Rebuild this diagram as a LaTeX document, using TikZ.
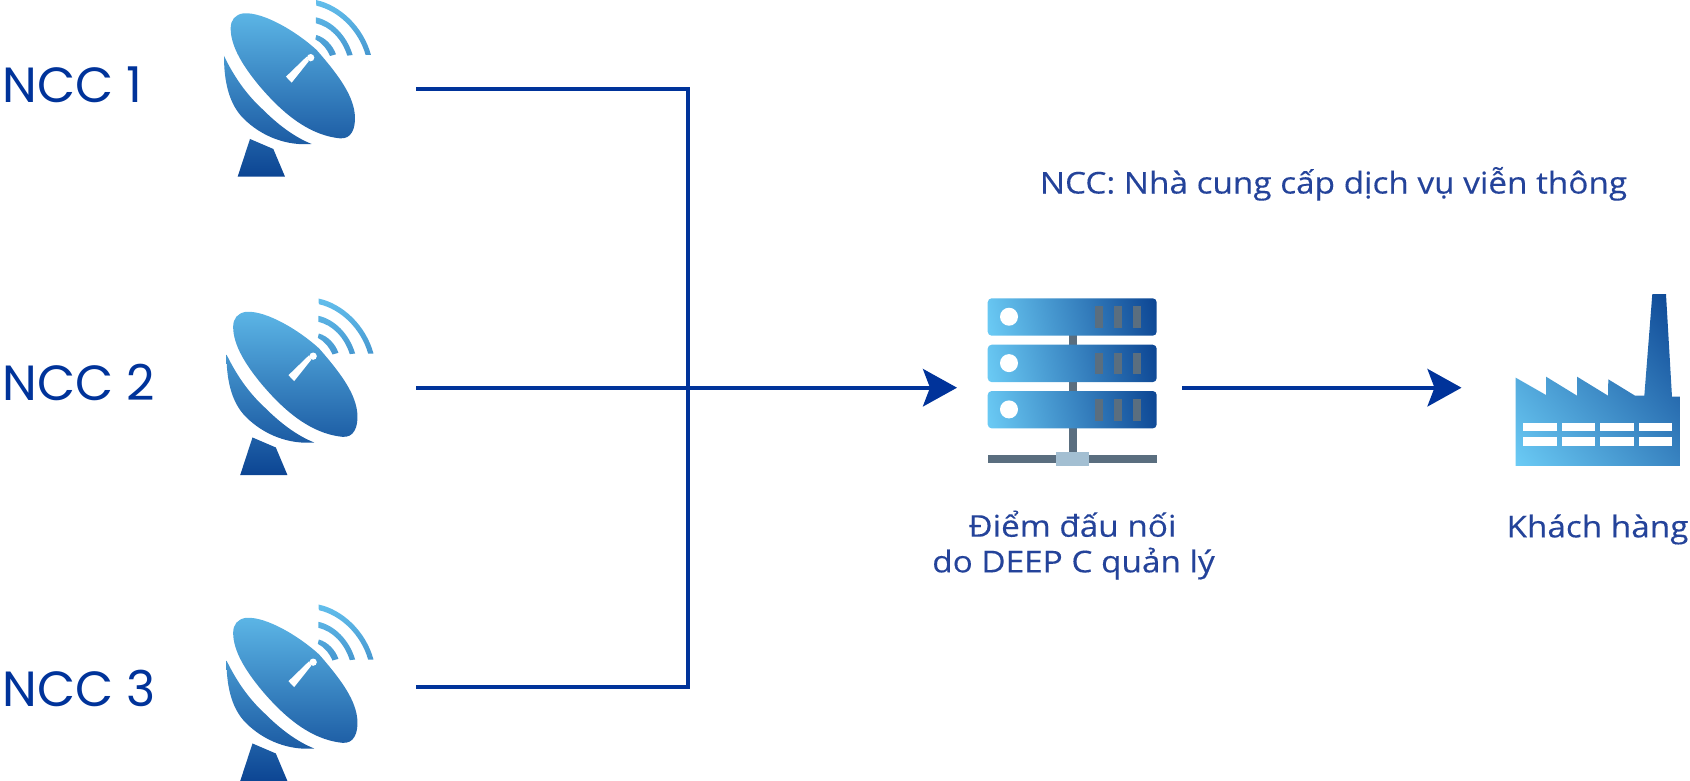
\documentclass[tikz,border=0pt]{standalone}
\usepackage{fontspec}
\usetikzlibrary{arrows.meta}
\setmainfont{Open Sans}
\newfontfamily\labelfont{Poppins}
\newfontfamily\notefont[FakeStretch=1.11,FakeBold=0.25]{Open Sans}
\definecolor{wire}{HTML}{00339A}
\definecolor{txt}{HTML}{24439A}
\definecolor{lightb}{HTML}{6BCBF5}
\definecolor{darkb}{HTML}{0C4593}
\definecolor{dishtop}{HTML}{62BEEC}
\definecolor{slate}{HTML}{5A6E7F}
\definecolor{hub}{HTML}{A3BFD2}
\pgfdeclareverticalshading{rackshade}{100bp}{color(0bp)=(lightb); color(20.25bp)=(lightb); color(79.75bp)=(darkb); color(100bp)=(darkb)}
\pgfdeclareverticalshading{factoryshade}{100bp}{color(0bp)=(lightb); color(14.8bp)=(lightb); color(85.2bp)=(darkb); color(100bp)=(darkb)}
\tikzset{
  wireline/.style={draw=wire,line width=4pt,miter limit=10},
  arrowline/.style={wireline,-{Stealth[length=34pt,width=37.4pt,inset=7pt]}},
  ncclabel/.style={anchor=base west,inner sep=0pt,text=wire,font=\labelfont\fontsize{49.4}{49.4}\selectfont},
  notelabel/.style={anchor=base,inner sep=0pt,text=txt,font=\notefont\fontsize{30}{30}\selectfont},
  dishshade/.style={top color=dishtop,bottom color=darkb,shading angle=0},
  rackfill/.style={shading=rackshade,shading angle=-77.7},
  factoryfill/.style={shading=factoryshade,shading angle=-50},
  rackbar/.style={fill=slate},
  whitepart/.style={fill=white}
}
\newcommand{\dishicon}[2]{%
\begin{scope}[shift={(#1pt,-#2pt)},x=0.3333pt,y=-0.3333pt]
  \shade[dishshade]
    (348,0) .. controls (420,15) and (490,80) .. (513,165) -- (497,165) .. controls (475,90) and (415,32) .. (349,17) -- cycle
    (348,52) .. controls (395,62) and (440,105) .. (458,165) -- (442,167) .. controls (425,115) and (390,80) .. (348,70) -- cycle
    (349,105) .. controls (375,112) and (398,135) .. (408,163) -- (390,168) .. controls (380,145) and (365,128) .. (346,118) -- cycle
    (130,40) .. controls (105,44) and (92,60) .. (92,85)
      .. controls (92,140) and (130,200) .. (180,260)
      .. controls (240,330) and (320,405) .. (420,415)
      .. controls (455,418) and (466,385) .. (465,350)
      .. controls (462,290) and (420,230) .. (350,150)
      .. controls (290,95) and (190,35) .. (130,40) -- cycle
    (72,168) .. controls (100,225) and (135,280) .. (190,330)
      .. controls (230,370) and (280,410) .. (335,432)
      .. controls (260,438) and (185,410) .. (130,355)
      .. controls (85,310) and (72,240) .. (72,168) -- cycle
    (150,417) -- (220,447) -- (255,530) -- (113,530) -- cycle;
  \fill[whitepart] (258,230) -- (275,248) -- (326,184) -- (320,170) -- cycle;
  \fill[whitepart] (332,173) circle[radius=11];
\end{scope}}
\newcommand{\rackunit}[1]{%
  \shade[rackfill,rounded corners=4pt] (987.7,#1) rectangle (1156.7,#1+37.4);
  \fill[whitepart] (1009,#1+18.4) circle[radius=9pt];
  \fill[rackbar] (1095.3,#1+7.8) rectangle (1103,#1+29.5);
  \fill[rackbar] (1114.3,#1+7.8) rectangle (1122,#1+29.5);
  \fill[rackbar] (1133.3,#1+7.8) rectangle (1141,#1+29.5);}
\begin{document}
\begin{tikzpicture}[x=1pt,y=-1pt]
\useasboundingbox (0,0) rectangle (1690,780);
\begin{scope}
\clip (0,0) rectangle (1690,780);
\dishicon{200}{0}
\dishicon{202.5}{298.5}
\dishicon{202.5}{604.5}
\end{scope}
% server
\fill[rackbar] (1068.7,330) rectangle (1077,456);
\rackunit{298.3}
\rackunit{344.7}
\rackunit{391}
\fill[rackbar] (987.7,455) rectangle (1156.7,463.3);
\fill[hub] (1056,452) rectangle (1089.3,465.7);
% factory
\begin{scope}[shift={(1480pt,-280pt)},x=0.3333pt,y=-0.3333pt]
  \shade[factoryfill] (107,293) -- (198,345) -- (198,290) -- (291,347) -- (291,290) -- (384,347) -- (385,298) -- (465,347) -- (493,347) -- (517,42) -- (558,42) -- (576,350) -- (600,350) -- (600,558) -- (107,558) -- cycle;
  \foreach \ya/\yb in {430/452,472/497}
    \foreach \xa/\xb in {129/231,245/345,359/461,477/576}
      \fill[whitepart] (\xa,\ya) rectangle (\xb,\yb);
\end{scope}
% labels
\node[ncclabel] (ncc1) at (2.4,102.3) {NCC 1};
\node[ncclabel] (ncc2) at (2.4,400) {NCC 2};
\node[ncclabel] (ncc3) at (2.4,706) {NCC 3};
\node[notelabel] (legend) at (1333.5,193.5) {NCC: Nhà cung cấp dịch vụ viễn thông};
\node[notelabel] (point1) at (1072.5,536.7) {Điểm đấu nối};
\node[notelabel] (point2) at (1073.5,572.3) {do DEEP C quản lý};
\node[notelabel] (client) at (1597.5,537.3) {Khách hàng};
% connectors
\coordinate (s1) at (416,88.5);
\coordinate (s2) at (416,387.7);
\coordinate (s3) at (416,687);
\coordinate (j1) at (687.5,88.5);
\coordinate (j3) at (687.5,687);
\coordinate (srvin) at (957,387.7);
\coordinate (srvout) at (1182.3,387.7);
\coordinate (factin) at (1461.5,387.7);
\draw[wireline] (s1) -- (j1) -- (j3) -- (s3);
\draw[arrowline] (s2) -- (srvin);
\draw[arrowline] (srvout) -- (factin);
\end{tikzpicture}
\end{document}
